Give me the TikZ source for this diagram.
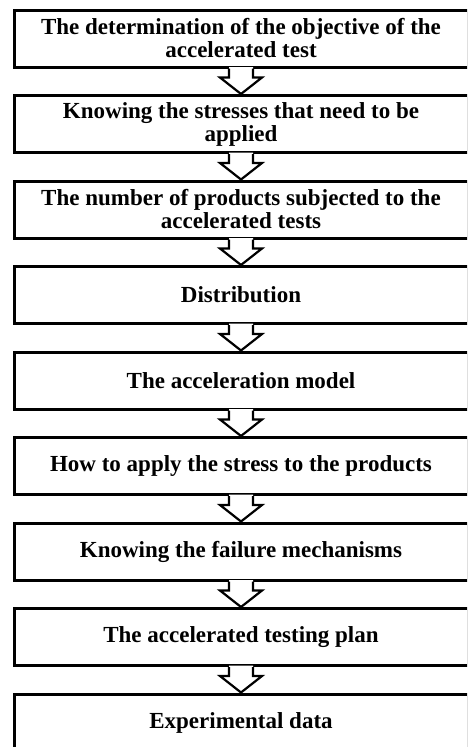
\documentclass[tikz,border=0pt]{standalone}
\usepackage{fontspec}
\setmainfont{Liberation Serif}
\usetikzlibrary{calc}
\begin{document}
\begin{tikzpicture}[x=1pt,y=1pt,
 stagebox/.style={draw=black, line width=3pt, minimum width=454pt, minimum height=57pt,
   align=center, inner sep=0pt, font=\fontsize{23}{23}\selectfont\bfseries},
 blockarrow/.style={draw=black, line width=2.2pt, line join=miter},
 arrowfill/.style={fill=white}]
\useasboundingbox (0,0) rectangle (467,-747);
\clip (0,0) rectangle (467,-747);
\node[stagebox] (s1) at (241,-38.5) {The determination of the objective of the\\accelerated test};
\node[stagebox] (s2) at (241,-124) {Knowing the stresses that need to be\\applied};
\node[stagebox] (s3) at (241,-209.5) {The number of products subjected to the\\accelerated tests};
\node[stagebox] (s4) at (241,-295) {Distribution};
\node[stagebox] (s5) at (241,-380.5) {The acceleration model};
\node[stagebox] (s6) at (241,-466) {How to apply the stress to the products};
\node[stagebox] (s7) at (241,-551.5) {Knowing the failure mechanisms};
\node[stagebox] (s8) at (241,-637) {The accelerated testing plan};
\node[stagebox] (s9) at (241,-722.5) {Experimental data};
\foreach \a/\b in {s1/s2,s2/s3,s3/s4,s4/s5,s5/s6,s6/s7,s7/s8,s8/s9}{
  \fill[arrowfill] ($(\a.south)+(-12,1.5)$) -- ($(\a.south)+(-12,-9)$) -- ($(\a.south)+(-21,-9)$)
     -- (\b.north) -- ($(\a.south)+(21,-9)$) -- ($(\a.south)+(12,-9)$) -- ($(\a.south)+(12,1.5)$) -- cycle;
  \draw[blockarrow] ($(\a.south)+(-12,0)$) -- ($(\a.south)+(-12,-9)$) -- ($(\a.south)+(-21,-9)$)
     -- (\b.north) -- ($(\a.south)+(21,-9)$) -- ($(\a.south)+(12,-9)$) -- ($(\a.south)+(12,0)$);
}
\end{tikzpicture}
\end{document}
